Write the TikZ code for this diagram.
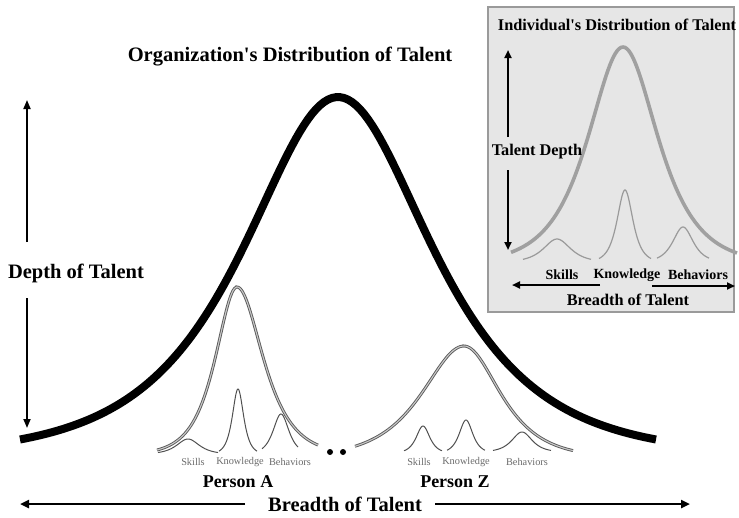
\documentclass[tikz,border=0pt]{standalone}
\usepackage{fontspec}
\setmainfont{Liberation Serif}
\usetikzlibrary{arrows.meta}
\definecolor{insetbg}{HTML}{E6E6E6}
\definecolor{insetframe}{HTML}{9A9A9A}
\definecolor{personline}{HTML}{5A5A5A}
\definecolor{personfill}{HTML}{C8C8C8}
\definecolor{smallline}{HTML}{505050}
\definecolor{insetcurve}{HTML}{A0A0A0}
\definecolor{insetsmall}{HTML}{9A9A9A}
\definecolor{smalltext}{HTML}{6A6A6A}
\begin{document}
\begin{tikzpicture}[x=1pt,y=-1pt,
  bigtxt/.style={font=\bfseries\fontsize{20.5}{22}\selectfont, inner sep=0pt},
  perstxt/.style={font=\bfseries\fontsize{18}{20}\selectfont, inner sep=0pt},
  smalltxt/.style={font=\fontsize{10.3}{11}\selectfont, text=smalltext, inner sep=0pt},
  intitle/.style={font=\bfseries\fontsize{16.3}{18}\selectfont, inner sep=0pt},
  inlbl/.style={font=\bfseries\fontsize{14}{16}\selectfont, inner sep=0pt},
  mainarrow/.style={line width=1.8pt, -{Triangle[length=9pt,width=7pt]}},
  botarrow/.style={line width=2.6pt, -{Triangle[length=9pt,width=8pt]}},
  inarrow/.style={line width=2.4pt, -{Triangle[length=8pt,width=7pt]}},
  bigcurve/.style={line width=8pt},
  personcurve/.style={draw=personline, line width=0.9pt, double=personfill, double distance=1.1pt},
  smallcurve/.style={draw=smallline, line width=1pt},
  incurve/.style={draw=insetcurve, line width=3.6pt},
  insmall/.style={draw=insetsmall, line width=1.2pt},
  dotnode/.style={circle, fill=black, inner sep=0pt, minimum size=6pt}
]
\useasboundingbox (0,0) rectangle (739,517);

% ---------- Inset ----------
\draw[fill=insetbg, draw=insetframe, line width=1.5pt] (488,7) rectangle (734,312);
\node[intitle] (intitle) at (617,25) {Individual\textquotesingle s Distribution of Talent};
\draw[incurve] plot[domain=-112:114, samples=120] ({623+\x},{264-217/cosh(\x/31)});
\draw[insmall] plot[domain=-34:34, samples=60] ({557+\x},{262-23/cosh(\x/12)});
\draw[insmall] plot[domain=-26:26, samples=80] ({625+\x},{262-72/cosh(\x/7)});
\draw[insmall] plot[domain=-26:26, samples=60] ({683+\x},{262-35/cosh(\x/9)});
\node[intitle] (tdepth) at (537,152) {Talent Depth};
\coordinate (td1) at (508,137);
\coordinate (tdtop) at (508,50);
\coordinate (td2) at (508,170);
\coordinate (tdbot) at (508,250);
\draw[inarrow] (td1) -- (tdtop);
\draw[inarrow] (td2) -- (tdbot);
\node[inlbl] (iskills) at (562,275) {Skills};
\node[inlbl] (iknow) at (627,275) {Knowledge};
\node[inlbl] (ibeh) at (698,275) {Behaviors};
\coordinate (ib1) at (600,285);
\coordinate (ibl) at (512,285);
\coordinate (ib2) at (652,286);
\coordinate (ibr) at (735,286);
\draw[inarrow] (ib1) -- (ibl);
\draw[inarrow] (ib2) -- (ibr);
\node[intitle] (ibreadth) at (628,300) {Breadth of Talent};

% ---------- Main ----------
\node[bigtxt] (title) at (290,57) {Organization\textquotesingle s Distribution of Talent};
\draw[bigcurve] plot[domain=-318:318, samples=160] ({338+\x},{455-358/cosh(\x/83)});

\node[bigtxt] (depth) at (76,273) {Depth of Talent};
\coordinate (d1) at (27,242);
\coordinate (dtop) at (27,100);
\coordinate (d2) at (27,298);
\coordinate (dbot) at (27,428);
\draw[mainarrow] (d1) -- (dtop);
\draw[mainarrow] (d2) -- (dbot);

% Person A
\draw[personcurve] plot[domain=-80:0, samples=60] ({237+\x},{455-168/cosh(\x/19)})
   -- plot[domain=0:81, samples=60] ({237+\x},{455-168/cosh(\x/23)});
\draw[smallcurve] plot[domain=-30:30, samples=60] ({188+\x},{454-15/cosh(\x/10)});
\draw[smallcurve] plot[domain=-19:19, samples=80] ({238+\x},{454-65/cosh(\x/5)});
\draw[smallcurve] plot[domain=-19:17, samples=60] ({281+\x},{454-40/cosh(\x/7)});
\node[smalltxt] (askills) at (193,462) {Skills};
\node[smalltxt] (aknow) at (240,462) {Knowledge};
\node[smalltxt] (abeh) at (290,462) {Behaviors};
\node[perstxt] (pa) at (238,482) {Person A};

% dots
\node[dotnode] (dot1) at (330,452) {};
\node[dotnode] (dot2) at (343,452) {};

% Person Z
\draw[personcurve] plot[domain=-109:0, samples=60] ({464+\x},{458-112/cosh(\x/37)})
   -- plot[domain=0:109, samples=60] ({464+\x},{458-112/cosh(\x/32)});
\draw[smallcurve] plot[domain=-19:19, samples=60] ({423+\x},{453-27/cosh(\x/6)});
\draw[smallcurve] plot[domain=-19:19, samples=60] ({466+\x},{453-33/cosh(\x/6)});
\draw[smallcurve] plot[domain=-29:29, samples=60] ({522+\x},{452-20/cosh(\x/9)});
\node[smalltxt] (zskills) at (419,462) {Skills};
\node[smalltxt] (zknow) at (466,462) {Knowledge};
\node[smalltxt] (zbeh) at (527,462) {Behaviors};
\node[perstxt] (pz) at (455,482) {Person Z};

% bottom axis
\node[bigtxt] (breadth) at (345,504) {Breadth of Talent};
\coordinate (b1) at (245,504);
\coordinate (bl) at (20,504);
\coordinate (b2) at (435,504);
\coordinate (br) at (690,504);
\draw[botarrow] (b1) -- (bl);
\draw[botarrow] (b2) -- (br);
\end{tikzpicture}
\end{document}
